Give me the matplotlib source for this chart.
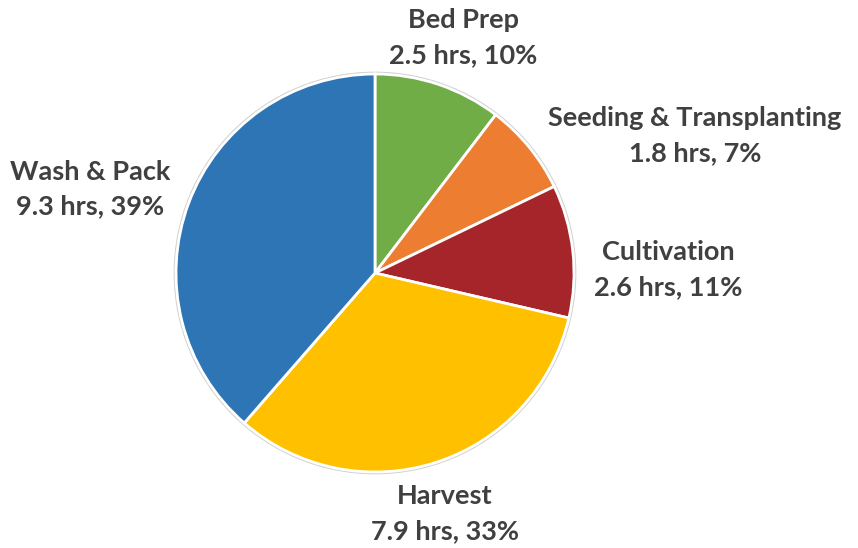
import matplotlib
matplotlib.use("Agg")
import matplotlib.pyplot as plt
from matplotlib.patches import Circle

categories = ["Bed Prep", "Seeding & Transplanting", "Cultivation", "Harvest", "Wash & Pack"]
hours = [2.5, 1.8, 2.6, 7.9, 9.3]
pct_labels = ["10%", "7%", "11%", "33%", "39%"]
colors = ["#70AD47", "#ED7D31", "#A5252A", "#FFC000", "#2E75B6"]

W, H = 858, 548
fig = plt.figure(figsize=(W / 100, H / 100), dpi=100)
ax = fig.add_axes([0, 0, 1, 1])
ax.set_xlim(0, W)
ax.set_ylim(0, H)
ax.axis("off")

cx, cy, r = 375, H - 273, 199
ax.add_patch(Circle((cx, cy), r + 1.5, facecolor="none", edgecolor="#d0d0d0", lw=1.2, zorder=0))
ax.pie(hours, colors=colors, startangle=90, counterclock=False, center=(cx, cy), radius=r,
       wedgeprops=dict(edgecolor="white", linewidth=2), frame=True)
ax.set_xlim(0, W)
ax.set_ylim(0, H)
ax.axis("off")

label_pos = [(463, 38), (695, 136), (668, 270), (445, 514), (90, 189)]
for name, h, p, (x, y) in zip(categories, hours, pct_labels, label_pos):
    ax.text(x, H - y, f"{name}\n{h} hrs, {p}", ha="center", va="center", fontsize=19.5,
            fontweight="bold", family="Lato", color="#404040", linespacing=1.55)

fig.savefig("out.png", dpi=100)
